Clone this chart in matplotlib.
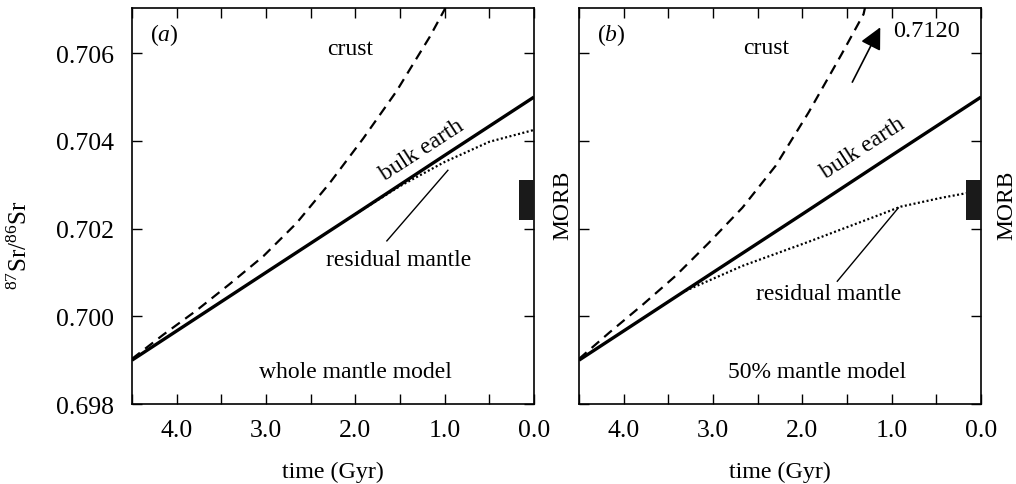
import matplotlib
matplotlib.use('Agg')
import matplotlib.pyplot as plt

plt.rcParams['font.family'] = 'Liberation Serif'
plt.rcParams['mathtext.fontset'] = 'custom'
plt.rcParams['mathtext.rm'] = 'Liberation Serif'
plt.rcParams['mathtext.it'] = 'Liberation Serif:italic'

# bulk earth evolution (same in both models)
bulk_t = [4.5, 3.0, 2.0, 1.0, 0.0]
bulk_sr = [0.6990, 0.7010, 0.70233, 0.70367, 0.7050]

# (a) whole mantle model
crust_a_t = [4.5, 4.15, 3.78, 3.41, 3.03, 2.66, 2.29, 1.91, 1.54, 1.165, 1.0, 0.98]
crust_a_sr = [0.69903, 0.69958, 0.70013, 0.70073, 0.70137, 0.70212, 0.70303,
              0.70406, 0.70513, 0.70638, 0.7070, 0.70712]
resid_a_t = [2.0, 1.5, 1.0, 0.5, 0.0]
resid_a_sr = [0.70233, 0.70297, 0.70352, 0.70398, 0.70425]

# (b) 50% mantle model
crust_b_t = [4.5, 4.16, 3.79, 3.42, 3.05, 2.67, 2.30, 1.93, 1.56, 1.315, 1.29]
crust_b_sr = [0.69903, 0.69963, 0.70026, 0.70092, 0.70167, 0.70248, 0.70343,
              0.70465, 0.70598, 0.70689, 0.70712]
resid_b_t = [3.31, 2.67, 1.93, 1.18, 0.9, 0.45, 0.0]
resid_b_sr = [0.70058, 0.70115, 0.70170, 0.70228, 0.70250, 0.70270, 0.70287]

# MORB range
morb_low = 0.7022
morb_high = 0.7031
morb_width = 0.17

yticks = [0.698, 0.700, 0.702, 0.704, 0.706]
xticks = [4.0, 3.0, 2.0, 1.0, 0.0]
xminor = [4.5, 3.5, 2.5, 1.5, 0.5]

fs = 17
fs_tick = 18.5

fig = plt.figure(figsize=(10.16, 4.85), dpi=100)
ax_a = fig.add_axes([0.1299, 0.1649, 0.3957, 0.8165])
ax_b = fig.add_axes([0.5699, 0.1649, 0.3957, 0.8165])


def setup(ax, show_ylabels):
    ax.set_xlim(4.5, 0.0)
    ax.set_ylim(0.698, 0.70703)
    ax.set_xticks(xticks)
    ax.set_xticklabels(['%.1f' % t for t in xticks])
    ax.set_xticks(xminor, minor=True)
    ax.set_yticks(yticks)
    if show_ylabels:
        ax.set_yticklabels(['%.3f' % v for v in yticks])
    else:
        ax.set_yticklabels([])
    ax.tick_params(which='both', direction='in', top=True, right=True,
                   length=7, width=1.0, labelsize=fs_tick)
    ax.tick_params(axis='x', pad=10.5)
    ax.tick_params(axis='y', pad=13)
    for s in ax.spines.values():
        s.set_linewidth(1.2)
    ax.set_xlabel('time (Gyr)', fontsize=fs + 0.3)
    ax.xaxis.set_label_coords(0.5, -0.143)
    ax.bar(0.0, morb_high - morb_low, bottom=morb_low, width=morb_width,
           align='edge', color='#1a1a1a', zorder=3)


setup(ax_a, True)
setup(ax_b, False)

dash = (0, (4.5, 3))
dots = (0, (0.9, 1.1))

# panel a
ax_a.plot(bulk_t, bulk_sr, color='black', lw=2.4, solid_capstyle='butt')
ax_a.plot(crust_a_t, crust_a_sr, color='black', lw=1.6, linestyle=dash)
ax_a.plot(resid_a_t, resid_a_sr, color='black', lw=1.6, linestyle=dots)
ax_a.plot([1.647, 0.964], [0.70172, 0.70333], color='black', lw=1.0)
ax_a.text(2.06, 0.70611, 'crust', fontsize=fs, ha='center', va='center')
ax_a.text(1.255, 0.70381, 'bulk earth', fontsize=fs, ha='center', va='center',
          rotation=33)
ax_a.text(1.52, 0.7013, 'residual mantle', fontsize=fs, ha='center', va='center')
ax_a.text(2.0, 0.69875, 'whole mantle model', fontsize=fs, ha='center', va='center')
ax_a.text(0.08, 0.935, r'($\mathit{a}$)', fontsize=fs, ha='center', va='center',
          transform=ax_a.transAxes)

# panel b
ax_b.plot(bulk_t, bulk_sr, color='black', lw=2.4, solid_capstyle='butt')
ax_b.plot(crust_b_t, crust_b_sr, color='black', lw=1.6, linestyle=dash)
ax_b.plot(resid_b_t, resid_b_sr, color='black', lw=1.6, linestyle=dots)
ax_b.plot([1.609, 0.927], [0.7008, 0.70247], color='black', lw=1.0)
ax_b.annotate('', xy=(1.128, 0.70659), xytext=(1.441, 0.70534),
              arrowprops=dict(arrowstyle='-|>,head_length=0.6,head_width=0.3',
                              mutation_scale=22, lw=1.2, color='black',
                              shrinkA=0, shrinkB=0))
ax_b.text(0.98, 0.70652, '0.7120', fontsize=fs + 0.5, ha='left', va='center')
ax_b.text(2.41, 0.70614, 'crust', fontsize=fs, ha='center', va='center')
ax_b.text(1.32, 0.70386, 'bulk earth', fontsize=fs, ha='center', va='center',
          rotation=33)
ax_b.text(1.71, 0.70051, 'residual mantle', fontsize=fs, ha='center', va='center')
ax_b.text(1.83, 0.69875, '50% mantle model', fontsize=fs, ha='center', va='center')
ax_b.text(0.08, 0.935, r'($\mathit{b}$)', fontsize=fs, ha='center', va='center',
          transform=ax_b.transAxes)

# MORB labels and y label
fig.text(563 / 1016, 1 - 205 / 485, 'MORB', fontsize=fs, rotation=90,
         ha='center', va='center')
fig.text(1007 / 1016, 1 - 205 / 485, 'MORB', fontsize=fs, rotation=90,
         ha='center', va='center')
fig.text(20 / 1016, 1 - 245 / 485, r'$^{87}$Sr/$^{86}$Sr', fontsize=18,
         rotation=90, ha='center', va='center')

fig.savefig('out.png', dpi=100)
